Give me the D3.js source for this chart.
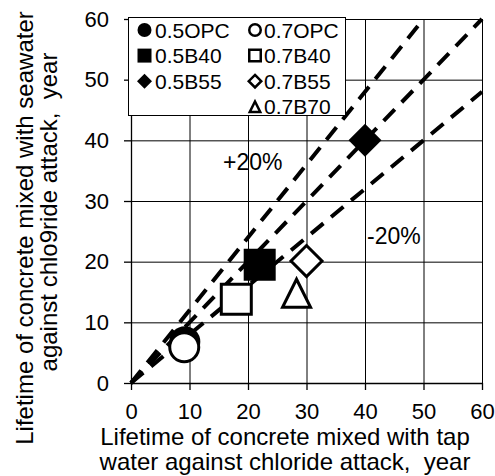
<!DOCTYPE html>
<html>
<head>
<meta charset="utf-8">
<style>
  body { margin: 0; background: #fff; }
  svg { display: block; font-family: "Liberation Sans", Arial, sans-serif; }
</style>
</head>
<body>
<svg width="495" height="476"></svg>
<script src="https://d3js.org/d3.v7.min.js"></script>
<script>

// series, in Excel's drawing order
var series   = ["0.5OPC", "0.7OPC", "0.5B40", "0.7B40", "0.5B55", "0.7B55", "0.7B70"];
var shapes   = ["circle", "circle", "square", "square", "diamond", "diamond", "triangle"];
var filled   = [true, false, true, false, true, false, false];
var tapLife  = [9.2, 9.1, 22.0, 18.0, 40.0, 30.0, 28.3];   // x: tap water, year
var seaLife  = [6.8, 5.9, 19.5, 13.8, 40.0, 20.1, 14.8];   // y: seawater, year

var ticks = [0, 10, 20, 30, 40, 50, 60];
var ratios = [1.2, 1.0, 0.8];            // +20%, 1:1, -20%

var svg = d3.select("svg");

var x = d3.scaleLinear().domain([0, 60]).range([131, 482]);
var y = d3.scaleLinear().domain([0, 60]).range([383, 19]);

// gridlines
svg.append("g")
    .attr("transform", "translate(0,383)")
    .call(d3.axisBottom(x).tickValues(ticks).tickSize(-364).tickFormat(""))
    .call(function(g) { g.select(".domain").remove(); })
    .selectAll("line").attr("stroke", "#000");

svg.append("g")
    .attr("transform", "translate(131,0)")
    .call(d3.axisLeft(y).tickValues(ticks).tickSize(-351).tickFormat(""))
    .call(function(g) { g.select(".domain").remove(); })
    .selectAll("line").attr("stroke", "#000");

// axes
var xAxis = svg.append("g")
    .attr("transform", "translate(0,383)")
    .call(d3.axisBottom(x).tickValues(ticks).tickSize(7).tickSizeOuter(0).tickPadding(13.5));

var yAxis = svg.append("g")
    .attr("transform", "translate(131,0)")
    .call(d3.axisLeft(y).tickValues(ticks).tickSize(7).tickSizeOuter(0).tickPadding(15));

[xAxis, yAxis].forEach(function(a) {
  a.selectAll("path, line").attr("stroke", "#000").attr("stroke-width", 1.3);
  a.selectAll("text")
      .attr("fill", "#000")
      .style("font-size", "22px")
      .style("font-family", "'Liberation Sans', Arial, sans-serif");
});

// dashed reference lines
var line = d3.line()
    .x(function(d) { return x(d[0]); })
    .y(function(d) { return y(d[1]); });

svg.append("g").selectAll("path")
    .data(ratios)
  .enter().append("path")
    .attr("d", function(r) { return line([[0, 0], [Math.min(60, 60 / r), Math.min(60, 60 * r)]]); })
    .attr("fill", "none")
    .attr("stroke", "#000")
    .attr("stroke-width", 4)
    .attr("stroke-dasharray", "16,10");

// marker shapes, s = full width
function marker(shape, s) {
  var h = s / 2, p = d3.path();
  if (shape == "circle") {
    p.moveTo(h, 0); p.arc(0, 0, h, 0, 2 * Math.PI);
  } else if (shape == "square") {
    p.rect(-h, -h, s, s);
  } else if (shape == "diamond") {
    p.moveTo(0, -h); p.lineTo(h, 0); p.lineTo(0, h); p.lineTo(-h, 0);
  } else {
    p.moveTo(0, -h); p.lineTo(h, h); p.lineTo(-h, h);
  }
  p.closePath();
  return p.toString();
}

var pointSize = { circle: 29, square: 30, diamond: 31, triangle: 28 };

svg.append("g").selectAll("path")
    .data(series)
  .enter().append("path")
    .attr("transform", function(d, i) { return "translate(" + x(tapLife[i]) + "," + y(seaLife[i]) + ")"; })
    .attr("d", function(d, i) { return marker(shapes[i], filled[i] ? pointSize[shapes[i]] + 2 : pointSize[shapes[i]]); })
    .attr("fill", function(d, i) { return filled[i] ? "#000" : "#fff"; })
    .attr("stroke", "#000")
    .attr("stroke-width", function(d, i) { return filled[i] ? 0 : 3; })
    .attr("stroke-linejoin", "miter");

// annotations
svg.append("text").attr("x", 223).attr("y", 170).style("font-size", "23px").text("+20%");
svg.append("text").attr("x", 367).attr("y", 244).style("font-size", "23px").text("-20%");

// legend
var legend = svg.append("g");
legend.append("rect")
    .attr("x", 128.5).attr("y", 17.5).attr("width", 217).attr("height", 98)
    .attr("fill", "#fff").attr("stroke", "#000");

var legSize = { circle: 14, square: 14, diamond: 15, triangle: 13 };

var items = legend.selectAll("g.item")
    .data(series)
  .enter().append("g")
    .attr("class", "item")
    .attr("transform", function(d, i) {
      // 0.7B70 sits alone in the right column of row 4
      var col = i % 2, row = Math.floor(i / 2);
      if (i == 6) { col = 1; row = 3; }
      return "translate(" + (col ? 255 : 144.5) + "," + (30 + row * 25.6) + ")";
    });

items.append("path")
    .attr("d", function(d, i) { return marker(shapes[i], legSize[shapes[i]] - (filled[i] ? 0 : 2.5)); })
    .attr("fill", function(d, i) { return filled[i] ? "#000" : "#fff"; })
    .attr("stroke", "#000")
    .attr("stroke-width", function(d, i) { return filled[i] ? 0 : 2.5; });

items.append("text")
    .attr("x", function(d, i) { return (i % 2 || i == 6) ? 9 : 10.5; })
    .attr("y", 7.5)
    .style("font-size", "21px")
    .text(function(d) { return d; });

// axis titles
svg.append("text").attr("text-anchor", "middle").attr("x", 285).attr("y", 445)
    .style("font-size", "24px").text("Lifetime of concrete mixed with tap");
svg.append("text").attr("text-anchor", "middle").attr("x", 285).attr("y", 470)
    .style("font-size", "24px").text("water against chloride attack,\u00a0 year");

svg.append("text").attr("text-anchor", "middle")
    .attr("transform", "translate(33,228) rotate(-90)")
    .style("font-size", "24px").text("Lifetime of concrete mixed with seawater");
svg.append("text").attr("text-anchor", "middle")
    .attr("transform", "translate(57,212) rotate(-90)")
    .style("font-size", "24px").text("against chlo9ride attack,\u00a0 year");

</script>
</body>
</html>
